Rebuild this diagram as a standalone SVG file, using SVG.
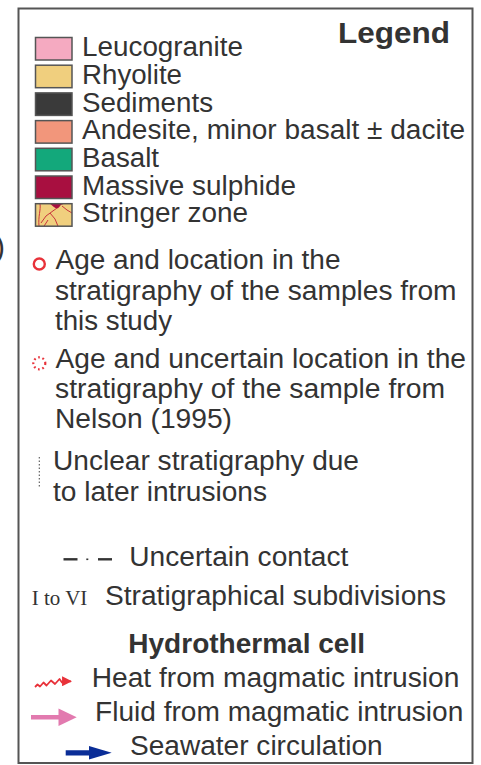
<svg xmlns="http://www.w3.org/2000/svg" width="481" height="765" viewBox="0 0 481 765">
<style>
.t{font-family:"Liberation Sans",Arial,sans-serif;font-size:26.8px;fill:#333}
.b{font-family:"Liberation Sans",Arial,sans-serif;font-weight:bold;fill:#333}
.sw{stroke:#555;stroke-width:1.5}
.rl{fill:none;stroke:#C8343C;stroke-width:1}
</style>
<defs>
<marker id="heatHead" viewBox="0 0 10 10" refX="9" refY="5" markerWidth="5.5" markerHeight="5.5" orient="auto" markerUnits="strokeWidth">
<path d="M0,0 L10,5 L0,10 Z" fill="#E8323A"/>
</marker>
</defs>
<rect width="481" height="765" fill="#fff"/>
<text class="t" x="-5" y="257" style="font-size:30px">)</text>
<rect id="frame" x="18.5" y="8.5" width="454" height="754.5" fill="none" stroke="#555" stroke-width="2"/>
<text class="b" x="338" y="43" style="font-size:29px" textLength="112" lengthAdjust="spacingAndGlyphs">Legend</text>

<g id="leucogranite"><rect class="sw" x="35.5" y="37.5" width="36.5" height="22.5" fill="#F5AAC1"/><text class="t" x="82" y="56" textLength="161" lengthAdjust="spacingAndGlyphs">Leucogranite</text></g>
<g id="rhyolite"><rect class="sw" x="35.5" y="65.2" width="36.5" height="22.5" fill="#F0CF7E"/><text class="t" x="82" y="84" textLength="100" lengthAdjust="spacingAndGlyphs">Rhyolite</text></g>
<g id="sediments"><rect class="sw" x="35.5" y="92.9" width="36.5" height="22.5" fill="#3A3A3A"/><text class="t" x="82" y="111.5" textLength="131" lengthAdjust="spacingAndGlyphs">Sediments</text></g>
<g id="andesite"><rect class="sw" x="35.5" y="120.6" width="36.5" height="22.5" fill="#F2967B"/><text class="t" x="82" y="139" textLength="383" lengthAdjust="spacingAndGlyphs">Andesite, minor basalt ± dacite</text></g>
<g id="basalt"><rect class="sw" x="35.5" y="148.3" width="36.5" height="22.5" fill="#13A87B"/><text class="t" x="82" y="167" textLength="77" lengthAdjust="spacingAndGlyphs">Basalt</text></g>
<g id="massive-sulphide"><rect class="sw" x="35.5" y="176" width="36.5" height="22.5" fill="#A80F40"/><text class="t" x="82" y="194.5" textLength="214" lengthAdjust="spacingAndGlyphs">Massive sulphide</text></g>
<g id="stringer-zone">
<rect x="35.5" y="203.7" width="36.5" height="22.5" fill="#F0CF7E"/>
<path d="M50,203.7 C53,206 55,208.5 57,208.5 C59,208.5 60,205 62,204.5 L64,203.7 Z" fill="#A80F40"/>
<path class="rl" d="M40,203.7 C41,210 38,216 39,226.2"/>
<path class="rl" d="M57,208 L46,216 L41,223"/>
<path class="rl" d="M50,213 L55,219 L58,226.2"/>
<path class="rl" d="M62,206 L67,210 L72,213"/>
<path class="rl" d="M44,226.2 L48,220"/>
<rect class="sw" x="35.5" y="203.7" width="36.5" height="22.5" fill="none"/>
<text class="t" x="82" y="222" textLength="166" lengthAdjust="spacingAndGlyphs">Stringer zone</text>
</g>

<g id="samples-this-study">
<circle cx="39.3" cy="264" r="5.5" fill="none" stroke="#E8323A" stroke-width="2.4"/>
<text class="t" x="55.5" y="269" textLength="285" lengthAdjust="spacingAndGlyphs">Age and location in the</text>
<text class="t" x="55" y="299.5" textLength="401.5" lengthAdjust="spacingAndGlyphs">stratigraphy of the samples from</text>
<text class="t" x="55" y="330" textLength="117" lengthAdjust="spacingAndGlyphs">this study</text>
</g>
<g id="sample-nelson">
<circle cx="39.3" cy="363.3" r="6" fill="none" stroke="#E8323A" stroke-width="2.2" stroke-dasharray="1.7 2.7"/>
<text class="t" x="55.5" y="368.3" textLength="410.5" lengthAdjust="spacingAndGlyphs">Age and uncertain location in the</text>
<text class="t" x="55" y="398.3" textLength="390" lengthAdjust="spacingAndGlyphs">stratigraphy of the sample from</text>
<text class="t" x="55" y="428.3" textLength="177" lengthAdjust="spacingAndGlyphs">Nelson (1995)</text>
</g>
<g id="unclear-stratigraphy">
<line x1="39.3" y1="457" x2="39.3" y2="488" stroke="#555" stroke-width="1.1" stroke-dasharray="1.5 2"/>
<text class="t" x="53" y="470" textLength="306" lengthAdjust="spacingAndGlyphs">Unclear stratigraphy due</text>
<text class="t" x="53" y="500.5" textLength="214" lengthAdjust="spacingAndGlyphs">to later intrusions</text>
</g>
<g id="uncertain-contact">
<line x1="63.5" y1="559.3" x2="77.5" y2="559.3" stroke="#333" stroke-width="2.4"/>
<line x1="86.3" y1="559.3" x2="88.3" y2="559.3" stroke="#333" stroke-width="1.6"/>
<line x1="98" y1="559.3" x2="112" y2="559.3" stroke="#333" stroke-width="2.4"/>
<text class="t" x="129.3" y="565.7" textLength="219" lengthAdjust="spacingAndGlyphs">Uncertain contact</text>
</g>
<g id="subdivisions">
<text x="31.7" y="605.3" style="font-family:'Liberation Serif','Times New Roman',serif;font-size:21px;fill:#333" textLength="55.6" lengthAdjust="spacingAndGlyphs">I to VI</text>
<text class="t" x="105" y="605" textLength="341" lengthAdjust="spacingAndGlyphs">Stratigraphical subdivisions</text>
</g>
<text class="b" x="128.3" y="653.3" style="font-size:26.8px" textLength="236.7" lengthAdjust="spacingAndGlyphs">Hydrothermal cell</text>
<g id="connectors">
<path d="M35,687 L37.5,684.5 L40,686.5 L43.5,682.5 L46.5,685.5 L51,680.5 L55,684 L59.5,679 L62,682.5 L64,681.3 L71,681.3" fill="none" stroke="#E8323A" stroke-width="1.8" stroke-linejoin="round" marker-end="url(#heatHead)"/>
<path d="M31,715 L58.5,715 L58.5,708.5 L76.7,717.3 L58.5,726 L58.5,719.6 L31,719.6 Z" fill="#E27AAF"/>
<path d="M65.7,750.2 L89,750.2 L89,746 L111.7,752.8 L89,759.6 L89,755.4 L65.7,755.4 Z" fill="#0A2D97"/>
</g>
<g id="heat"><text class="t" x="91.7" y="686.7" textLength="367.7" lengthAdjust="spacingAndGlyphs">Heat from magmatic intrusion</text></g>
<g id="fluid"><text class="t" x="95" y="720.7" textLength="368.3" lengthAdjust="spacingAndGlyphs">Fluid from magmatic intrusion</text></g>
<g id="seawater"><text class="t" x="130" y="755" textLength="252.7" lengthAdjust="spacingAndGlyphs">Seawater circulation</text></g>
</svg>
